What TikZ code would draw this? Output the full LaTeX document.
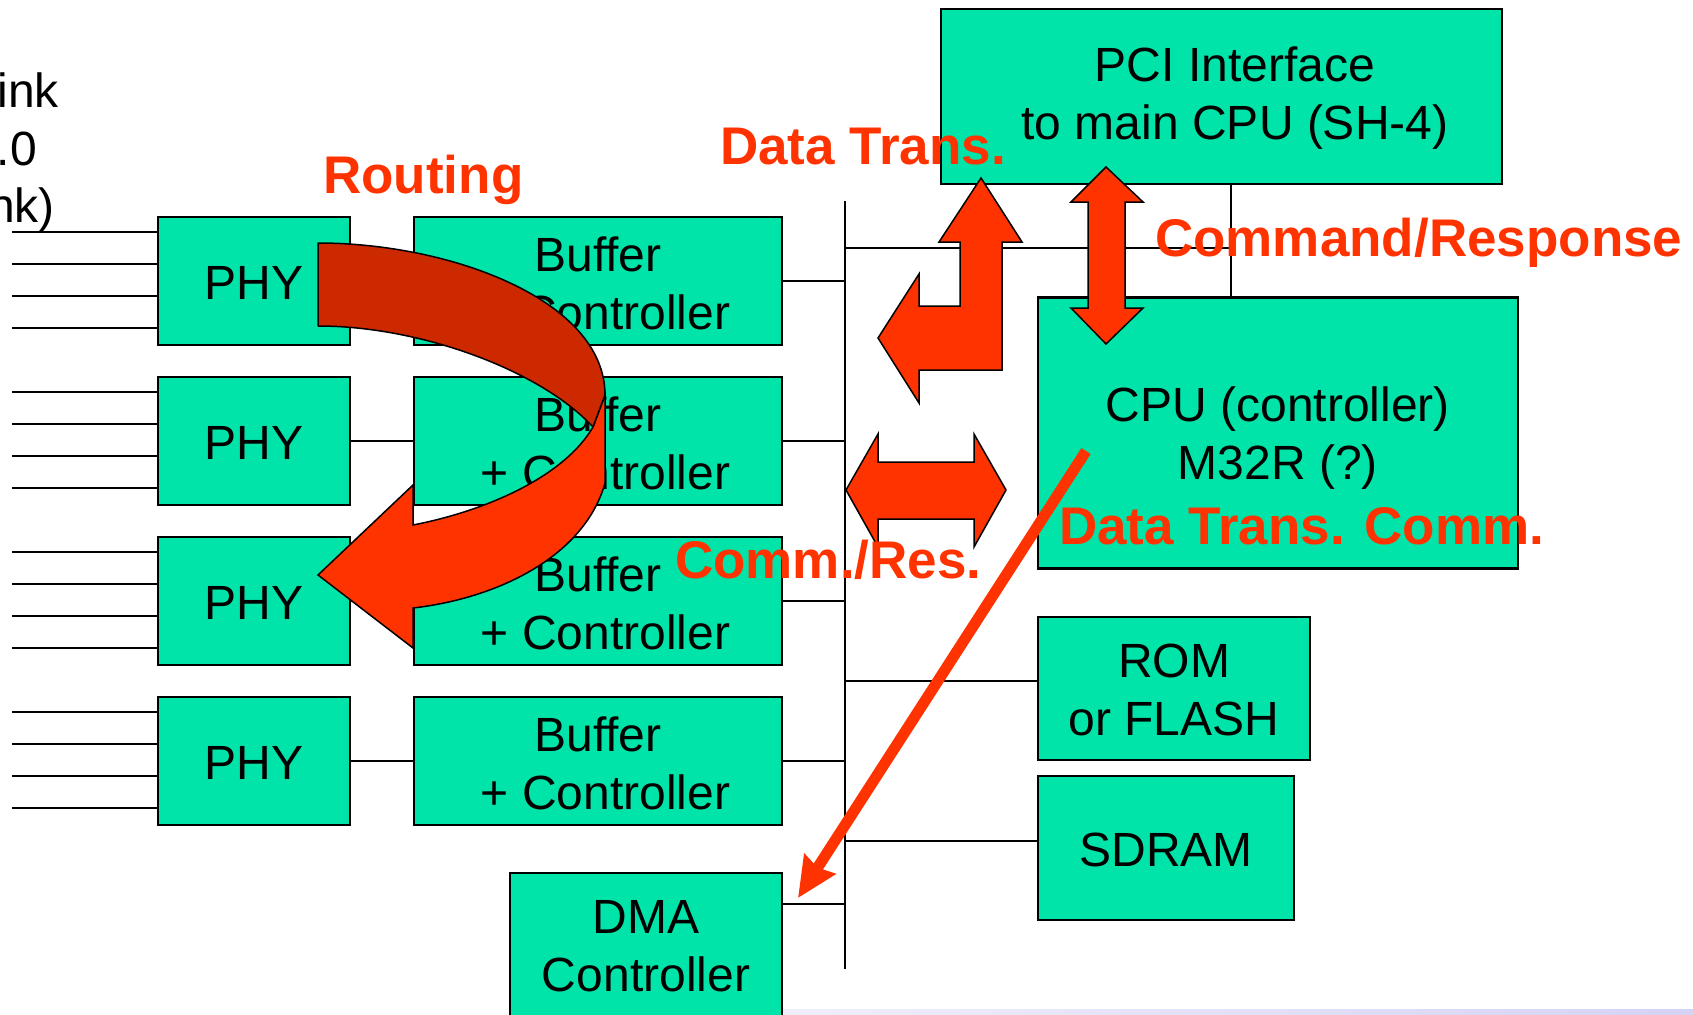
\documentclass[tikz,border=0pt]{standalone}
\usepackage{fontspec}
\setmainfont{Liberation Sans}
\usetikzlibrary{arrows.meta}
\definecolor{boxgreen}{HTML}{00E3A9}
\definecolor{redlab}{HTML}{FF3300}
\definecolor{darkred}{HTML}{CC2900}
\definecolor{lavA}{HTML}{F0EEFB}
\definecolor{lavB}{HTML}{D6D2F4}
\begin{document}
\begin{tikzpicture}[x=1pt,y=-1pt,
  blk/.style={draw=black, line width=2.5pt, fill=boxgreen, inner sep=0pt,
    font=\fontsize{48}{58}\selectfont, align=center},
  btxt/.style={font=\fontsize{48}{58}\selectfont, align=center, inner sep=0pt},
  wire/.style={draw=black, line width=2pt},
  lefttxt/.style={font=\fontsize{48}{58}\selectfont, inner sep=0pt, anchor=base east},
  rtxt/.style={font=\fontsize{53}{60}\selectfont\bfseries, text=redlab, inner sep=0pt, anchor=base west},
  bigarrow/.style={fill=redlab, draw=black, line width=1.5pt, line join=miter},
]
\useasboundingbox (0,0) rectangle (1693,1014);
\clip (0,0) rectangle (1693,1014);
\fill[white] (0,0) rectangle (1693,1014);
\shade[left color=lavA, right color=lavB] (783,1009) rectangle (1693,1014);

% left partial text
\node[lefttxt] (lt1) at (59,107) {ink};
\node[lefttxt] (lt2) at (37,165) {.0};
\node[lefttxt] (lt3) at (55,222) {nk)};

% boxes
\foreach \k/\y in {1/281,2/441,3/601,4/761}{
  \node[blk, minimum width=192pt, minimum height=128pt] (phy\k) at (254,\y) {};
  \node[btxt] (phyt\k) at (254,\y+2) {PHY};
  \node[blk, minimum width=368pt, minimum height=128pt] (buf\k) at (598,\y) {};
  \node[btxt] (buft\k) at (598,\y+2) {Buffer\\\hspace*{15pt}+ Controller};
}
\node[blk, minimum width=272pt, minimum height=146pt] (dma) at (646,946) {DMA\\Controller};
\node[blk, minimum width=561pt, minimum height=175pt] (pci) at (1221.5,96.5) {};
\node[btxt] (pcitxt) at (1235,98) {PCI Interface\\to main CPU (SH-4)};
\node[blk, minimum width=480pt, minimum height=271pt] (cpu) at (1278,433) {};
\node[btxt] (cputxt) at (1278,438.5) {CPU (controller)\\M32R (?)};
\node[blk, minimum width=272pt, minimum height=143pt] (rom) at (1174,688.5) {};
\node[btxt] (romtxt) at (1174,690) {ROM\\or FLASH};
\node[blk, minimum width=256pt, minimum height=144pt] (sdram) at (1166,848) {};
\node[btxt] (sdramtxt) at (1166,850) {SDRAM};

% bus
\coordinate (bustop) at (845,201);
\coordinate (busbot) at (845,969);
\coordinate (pcilink) at (1231,248);
\draw[wire] (bustop) -- (busbot);

% PHY input lines and connections
\foreach \k in {1,...,4}{
  \foreach \d in {16,48,80,112}{
    \draw[wire] ([yshift=-\d pt]phy\k.north west) -- ++(-145,0);
  }
  \draw[wire] (phy\k.east) -- (buf\k.west);
  \draw[wire] (buf\k.east) -- (buf\k.east -| bustop);
}
\draw[wire] ([yshift=8pt]rom.west) -- ([yshift=8pt]rom.west -| bustop);
\draw[wire] ([yshift=7pt]sdram.west) -- ([yshift=7pt]sdram.west -| bustop);
\draw[wire] ([yshift=-32pt]dma.north east) -- ([yshift=-32pt]dma.north east -| bustop);
\draw[wire] (bustop |- pcilink) -- (pcilink);
\draw[wire] (pci.south -| pcilink) -- (cpu.north -| pcilink);

% routing arrow
\path[fill=redlab, draw=black, line width=1.5pt, line join=miter]
  (605,395) -- (605,483) .. controls (585,555) and (500,598) .. (413,608)
  -- (413,648) -- (318,575) -- (413,485) -- (413,525)
  .. controls (490,510) and (565,475) .. (593,427) -- cycle;
\path[fill=darkred, draw=black, line width=1.5pt, line join=round]
  (318,243) .. controls (450,243) and (605,300) .. (605,395) -- (593,427)
  .. controls (540,370) and (420,326) .. (318,326) -- cycle;

% bent arrow (data trans.)
\path[bigarrow] (981,178) -- (1022,242) -- (1002,242) -- (1002,370) -- (919,370)
  -- (919,403) -- (878,338) -- (919,274) -- (919,306) -- (960,306) -- (960,242)
  -- (939,242) -- cycle;
% command/response double arrow
\path[bigarrow] (1106,167) -- (1143,202) -- (1125,202) -- (1125,308) -- (1143,308)
  -- (1106,344) -- (1071,308) -- (1088,308) -- (1088,202) -- (1071,202) -- cycle;
% horizontal double arrow
\path[bigarrow] (846,490) -- (878,434) -- (878,462) -- (974,462) -- (974,434)
  -- (1006,490) -- (974,547) -- (974,519) -- (878,519) -- (878,547) -- cycle;

% diagonal arrow
\coordinate (dstart) at (1086,451);
\coordinate (dend) at (798,898);
\draw[redlab, line width=11pt, -{Stealth[length=40pt,width=36pt,inset=4pt]}] (dstart) -- (dend);

% red labels
\node[rtxt] (lroute) at (323,193) {Routing};
\node[rtxt] (ldata) at (720,164) {Data Trans.};
\node[rtxt] (lcmd) at (1155,256) {Command/Response};
\node[rtxt] (lcomm) at (675,578) {Comm./Res.};
\node[rtxt] (ldtc) at (1059,544) {Data Trans. Comm.};
\end{tikzpicture}
\end{document}
